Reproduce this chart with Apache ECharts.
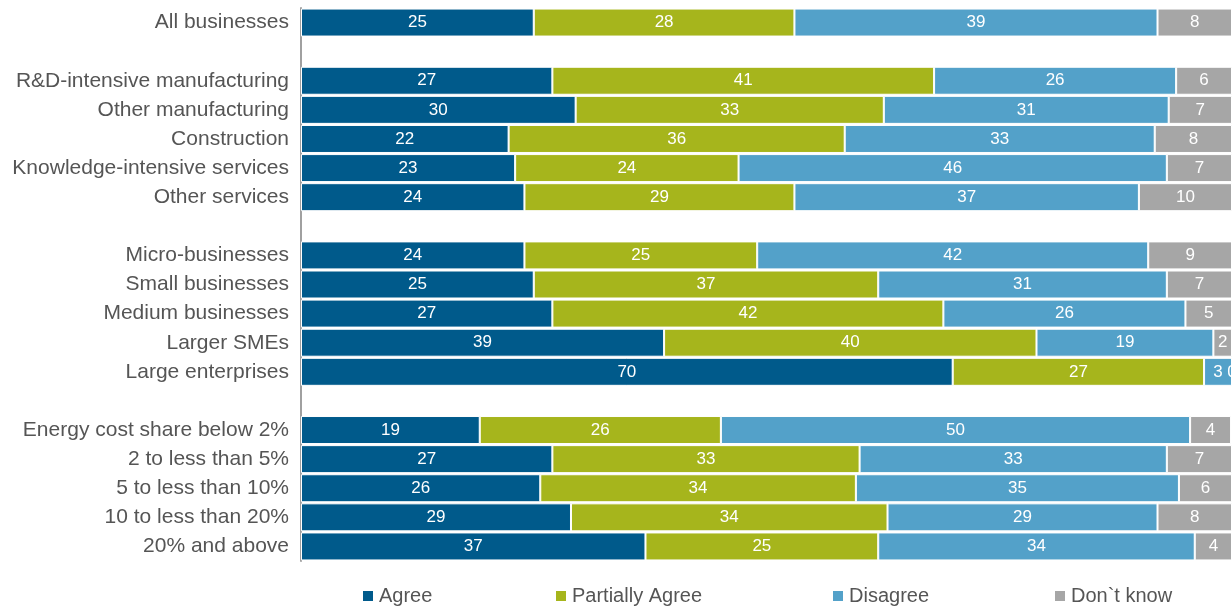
<!DOCTYPE html>
<html>
<head>
<meta charset="utf-8">
<script src="https://cdn.jsdelivr.net/npm/echarts@6/dist/echarts.min.js"></script>
<style>
html,body{margin:0;padding:0;background:#fff;}
#chart{width:1232px;height:610px;}
</style>
</head>
<body>
<div id="chart"></div>
<script>
const categories = [
  'All businesses', '',
  'R&D-intensive manufacturing', 'Other manufacturing', 'Construction', 'Knowledge-intensive services', 'Other services', '',
  'Micro-businesses', 'Small businesses', 'Medium businesses', 'Larger SMEs', 'Large enterprises', '',
  'Energy cost share below 2%', '2 to less than 5%', '5 to less than 10%', '10 to less than 20%', '20% and above'
];
// values in percent (bar lengths; labels show rounded values)
const agree     = [25, null, 27, 29.5, 22.3, 23, 24, null, 24, 25, 27, 39, 70, null, 19.2, 27, 25.7, 29, 37];
const partially = [28, null, 41, 33.1, 36.1, 24, 29, null, 25, 37, 42, 40, 27, null, 25.9, 33, 33.9, 34, 25];
const disagree  = [39, null, 26, 30.6, 33.3, 46, 37, null, 42, 31, 26, 19, 3, null, 50.4, 33, 34.7, 29, 34];
const dontKnow  = [8, null, 6, 6.8, 8.3, 7, 10, null, 9, 7, 5, 2, 0, null, 4.4, 7, 5.7, 8, 4];
const seriesNames = ['Agree', 'Partially Agree', 'Disagree', 'Don`t know'];
const seriesData = [agree, partially, disagree, dontKnow];
const colors = ['#005a8b', '#a6b51c', '#53a1c9', '#a6a6a6'];
const legendLeft = [356, 549, 826, 1048];

const chart = echarts.init(document.getElementById('chart'));
chart.setOption({
  animation: false,
  grid: {left: 301, right: 0, top: 8, bottom: 49, containLabel: false},
  xAxis: {type: 'value', min: 0, max: 100, show: false},
  yAxis: {
    type: 'category', data: categories, inverse: true,
    axisLine: {show: true, lineStyle: {color: '#a0a0a0', width: 2}},
    axisTick: {show: false},
    axisLabel: {color: '#555555', fontSize: 21, fontFamily: 'Liberation Sans, Arial, sans-serif', margin: 12}
  },
  legend: seriesNames.map((n, i) => ({
    data: [n], left: legendLeft[i], top: 581,
    icon: 'rect', itemWidth: 12, itemHeight: 12, itemGap: 0,
    textStyle: {color: '#555555', fontSize: 20, fontFamily: 'Liberation Sans, Arial, sans-serif'}
  })),
  series: seriesNames.map((n, i) => ({
    name: n, type: 'bar', stack: 'total', data: seriesData[i],
    barWidth: 28,
    itemStyle: {color: colors[i], borderColor: '#ffffff', borderWidth: 1},
    label: {
      show: true, position: 'inside', color: '#ffffff', fontSize: 17,
      fontFamily: 'Liberation Sans, Arial, sans-serif',
      formatter: p => String(Math.round(p.value))
    }
  }))
});
</script>
</body>
</html>
